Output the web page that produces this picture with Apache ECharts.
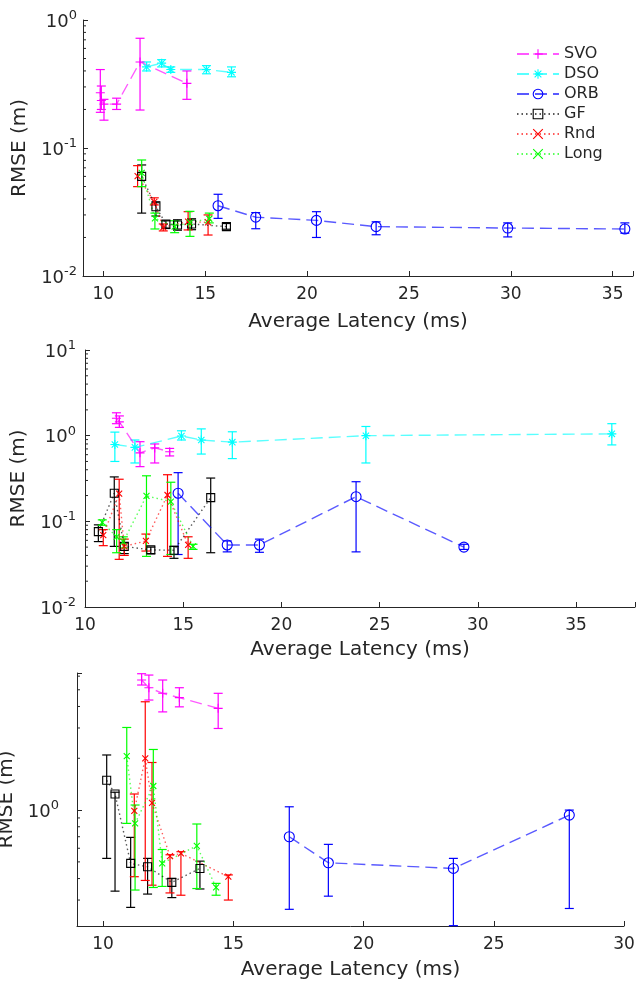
<!DOCTYPE html>
<html>
<head>
<meta charset="utf-8">
<script src="https://cdn.jsdelivr.net/npm/echarts@6/dist/echarts.min.js"></script>
<style>
  html, body { margin: 0; padding: 0; background: #fff; }
  #chart { width: 641px; height: 981px; }
</style>
</head>
<body>
<div id="chart"></div>
<script>
// rows: [latency (ms), rmse (m), err low, err high]
// top panel
const svo1 = [[9.85,0.27,0.19,0.41],[9.9,0.235,0.20,0.305],[10.03,0.22,0.165,0.24],[10.65,0.22,0.20,0.245],[11.8,0.47,0.198,0.72],[14.1,0.32,0.24,0.40]]
const dso1 = [[12.12,0.43,0.40,0.47],[12.86,0.46,0.43,0.49],[13.31,0.41,0.39,0.43],[15.06,0.41,0.38,0.44],[16.29,0.39,0.36,0.43]]
const orb1 = [[15.63,0.0354,0.0282,0.0435],[17.48,0.0288,0.0234,0.0313],[20.46,0.0272,0.020,0.0318],[23.39,0.0243,0.021,0.0265],[29.85,0.0237,0.0202,0.026],[35.6,0.0233,0.0216,0.026]]
const gf1 = [[11.88,0.06,0.031,0.0737],[12.58,0.0348,0.0294,0.038],[13.07,0.0255,0.0235,0.027],[13.64,0.025,0.0228,0.0275],[14.33,0.0255,0.023,0.028],[16.04,0.0243,0.0232,0.0257]]
const rnd1 = [[11.68,0.0604,0.0499,0.0728],[12.5,0.038,0.0359,0.0408],[12.94,0.024,0.0225,0.0255],[14.16,0.0266,0.0229,0.0318],[15.14,0.0262,0.0209,0.030]]
const long1 = [[11.88,0.0638,0.0499,0.0806],[12.53,0.0282,0.0233,0.031],[13.5,0.0243,0.0218,0.027],[14.25,0.0262,0.0204,0.032],[15.2,0.028,0.026,0.031]]
// middle panel
const svo2 = [[11.6,1.6,1.38,1.85],[11.75,1.45,1.25,1.7],[12.8,0.63,0.435,0.85],[13.55,0.72,0.48,0.80],[14.31,0.65,0.58,0.71]]
const dso2 = [[11.52,0.79,0.50,1.1],[12.54,0.73,0.48,0.89],[14.91,0.99,0.89,1.14],[15.92,0.89,0.61,1.2],[17.5,0.84,0.54,1.11],[24.3,1.0,0.48,1.28],[36.82,1.05,0.78,1.38]]
const orb2 = [[14.74,0.213,0.041,0.37],[17.24,0.053,0.044,0.059],[18.88,0.053,0.0435,0.062],[23.8,0.194,0.044,0.29],[29.29,0.050,0.047,0.054]]
const gf2 = [[10.68,0.0759,0.058,0.091],[11.49,0.213,0.051,0.33],[12.0,0.051,0.042,0.056],[13.35,0.0464,0.042,0.05],[14.53,0.046,0.037,0.051],[16.4,0.189,0.043,0.32]]
const rnd2 = [[10.93,0.069,0.052,0.08],[11.74,0.21,0.036,0.31],[12.0,0.051,0.04,0.062],[13.1,0.059,0.045,0.071],[14.2,0.203,0.039,0.35],[15.25,0.053,0.037,0.066]]
const long2 = [[10.88,0.097,0.09,0.104],[11.61,0.066,0.043,0.08],[11.95,0.058,0.049,0.066],[13.13,0.198,0.039,0.34],[14.37,0.17,0.041,0.286],[15.5,0.051,0.047,0.054]]
// bottom panel (no DSO)
const svo3 = [[11.48,5.7,5.33,6.2],[11.76,5.14,4.36,6.09],[12.29,4.77,3.72,5.7],[12.93,4.5,3.98,5.14],[14.42,3.9,2.98,4.77]]
const orb3 = [[17.15,0.70,0.265,1.045],[18.65,0.494,0.316,0.632],[23.45,0.458,0.213,0.524],[27.9,0.935,0.268,1.0]]
const gf3 = [[10.14,1.49,0.524,2.09],[10.46,1.24,0.338,1.27],[11.06,0.49,0.272,0.694],[11.71,0.468,0.325,0.524],[12.64,0.38,0.31,0.40],[13.72,0.458,0.348,0.505]]
const rnd3 = [[11.2,0.99,0.41,1.24],[11.62,2.0,0.39,4.26],[11.88,1.1,0.366,1.89],[12.57,0.54,0.33,0.55],[12.99,0.56,0.32,0.573],[14.81,0.41,0.30,0.42]]
const long3 = [[10.91,2.06,0.837,3.02],[11.23,0.837,0.343,1.07],[11.93,1.38,0.355,2.25],[12.27,0.49,0.36,0.59],[13.6,0.62,0.35,0.83],[14.34,0.355,0.32,0.375]]

const methodNames = ['SVO','DSO','ORB','GF','Rnd','Long']
const panelData = [
  {SVO:svo1, DSO:dso1, ORB:orb1, GF:gf1, Rnd:rnd1, Long:long1},
  {SVO:svo2, DSO:dso2, ORB:orb2, GF:gf2, Rnd:rnd2, Long:long2},
  {SVO:svo3, ORB:orb3, GF:gf3, Rnd:rnd3, Long:long3}
]
// axis ranges
const xRanges = [[9,36],[10,38],[9,30]]
const yRanges = [[0.01,1],[0.01,10],[0.212,6.26]]

const FONT='DejaVu Sans'
const TXT='#262626'
const PLUS='path://M0,5L10,5M5,0L5,10'
const STAR='path://M0,5L10,5M5,0L5,10M1.5,1.5L8.5,8.5M1.5,8.5L8.5,1.5'
const CROSS='path://M0,0L10,10M0,10L10,0'
const look={
  SVO:{color:'#ff00ff',type:[12,6],symbol:PLUS,size:9},
  DSO:{color:'#00ffff',type:[12,6],symbol:STAR,size:9},
  ORB:{color:'#0000ff',type:[12,6],symbol:'circle',size:10},
  GF:{color:'#000000',type:[1.5,3],symbol:'rect',size:8},
  Rnd:{color:'#ff0000',type:[1.5,3],symbol:CROSS,size:6},
  Long:{color:'#00ff00',type:[1.5,3],symbol:CROSS,size:6}
}
const gridPos=[
  {left:83,right:8,top:20,height:256},
  {left:85,right:6,top:350,height:257},
  {left:77,right:17,top:673,height:253}
]
const yLabelMargin=[6,9,18]
const yNameGap=[53,55,47]
const xNameGap=[36,33,34]

function expLabel(v){
  let l=Math.log10(v)
  let e=Math.round(l)
  if(Math.abs(l-e)>1e-6) return ''
  return '{b|10}{s|'+e+'}'
}

function errRender(color){
  return function(params,api){
    let x=api.value(0)
    let lo=api.coord([x,api.value(2)])
    let hi=api.coord([x,api.value(3)])
    let w=4.5
    let st={stroke:color,lineWidth:1.2}
    return {type:'group',children:[
      {type:'line',shape:{x1:lo[0],y1:lo[1],x2:hi[0],y2:hi[1]},style:st},
      {type:'line',shape:{x1:lo[0]-w,y1:lo[1],x2:lo[0]+w,y2:lo[1]},style:st},
      {type:'line',shape:{x1:hi[0]-w,y1:hi[1],x2:hi[0]+w,y2:hi[1]},style:st}
    ]}
  }
}

// minor log ticks on the y axis, drawn inward from the axis line
function minorRender(params,api){
  let p=api.coord([api.value(0),api.value(1)])
  let x0=params.coordSys.x
  return {type:'line',shape:{x1:x0,y1:p[1],x2:x0+3,y2:p[1]},style:{stroke:TXT,lineWidth:1}}
}
function minorValues(r){
  let out=[]
  for(let e=-3;e<=2;e++){
    for(let m=2;m<=9;m++){
      let v=m*Math.pow(10,e)
      if(v>r[0]&&v<r[1]) out.push(v)
    }
  }
  return out
}

let grids=[],xAxes=[],yAxes=[],series=[]
for(let i=0;i<3;i++){
  grids.push(Object.assign({outerBoundsMode:'none',containLabel:false},gridPos[i]))
  xAxes.push({
    type:'value',gridIndex:i,min:xRanges[i][0],max:xRanges[i][1],
    name:'Average Latency (ms)',nameLocation:'middle',nameGap:xNameGap[i],
    nameTextStyle:{fontFamily:FONT,fontSize:20,color:TXT},
    axisLine:{lineStyle:{color:TXT,width:1}},
    axisTick:{inside:true,length:5,lineStyle:{color:TXT}},
    axisLabel:{fontFamily:FONT,fontSize:17,color:TXT,margin:10,
      formatter:v=>(Math.abs(v%5)<1e-9?String(v):'')},
    splitLine:{show:false}
  })
  yAxes.push({
    type:'log',logBase:10,gridIndex:i,min:yRanges[i][0],max:yRanges[i][1],
    name:'RMSE (m)',nameLocation:'middle',nameGap:yNameGap[i],nameRotate:90,
    nameTextStyle:{fontFamily:FONT,fontSize:20,color:TXT},
    axisLine:{show:true,lineStyle:{color:TXT,width:1}},
    axisTick:{inside:true,length:5,lineStyle:{color:TXT}},
    axisLabel:{color:TXT,margin:yLabelMargin[i],formatter:expLabel,
      rich:{
        b:{fontFamily:FONT,fontSize:18,color:TXT,verticalAlign:'bottom'},
        s:{fontFamily:FONT,fontSize:13,color:TXT,verticalAlign:'top',padding:[0,0,9,0]}
      }},
    splitLine:{show:false}
  })
  series.push({
    type:'custom',xAxisIndex:i,yAxisIndex:i,renderItem:minorRender,silent:true,
    data:minorValues(yRanges[i]).map(v=>[xRanges[i][0],v]),z:1
  })
  methodNames.forEach(name=>{
    let rows=panelData[i][name]
    if(!rows) return
    let lk=look[name]
    series.push({
      type:'custom',xAxisIndex:i,yAxisIndex:i,renderItem:errRender(lk.color),
      data:rows,encode:{x:0,y:[1,2,3]},z:2,silent:true
    })
    series.push({
      name:name,type:'line',xAxisIndex:i,yAxisIndex:i,
      data:rows.map(r=>[r[0],r[1]]),
      symbol:lk.symbol,symbolSize:lk.size,showSymbol:true,
      itemStyle:{color:'rgba(0,0,0,0)',borderColor:lk.color,borderWidth:1.1},
      lineStyle:{color:lk.color,width:1.4,type:lk.type,opacity:0.65},
      z:3
    })
  })
}

let chart=echarts.init(document.getElementById('chart'),null,{renderer:'canvas'})
chart.setOption({
  animation:false,
  backgroundColor:'#ffffff',
  grid:grids,
  xAxis:xAxes,
  yAxis:yAxes,
  legend:{
    data:methodNames,orient:'vertical',left:511,top:41,
    itemWidth:42,itemHeight:12,itemGap:4,
    itemStyle:{borderWidth:1.1},
    textStyle:{fontFamily:FONT,fontSize:16,color:TXT,lineHeight:16}
  },
  series:series
})
</script>
</body>
</html>
